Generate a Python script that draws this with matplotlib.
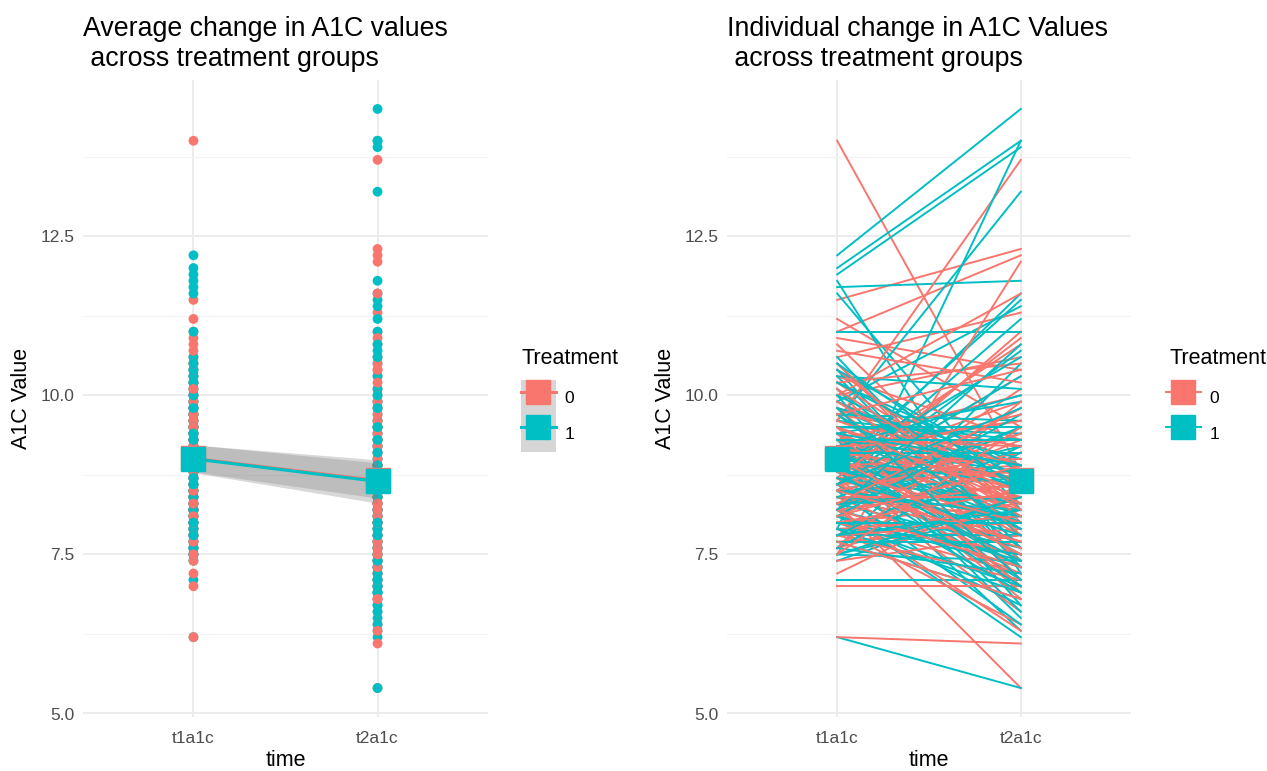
'''Average and individual change in A1C values by treatment group'''

import numpy as np
import matplotlib
matplotlib.use('Agg')
import matplotlib.pyplot as plt
from matplotlib.lines import Line2D
from matplotlib.patches import Patch
from matplotlib.legend_handler import HandlerTuple

plt.rcParams['font.family'] = ['Liberation Sans', 'DejaVu Sans']

# time points (discrete x axis)
times = ['t1a1c', 't2a1c']
groups = ['0', '1']
y_ticks = [5.0, 7.5, 10.0, 12.5]

# treatment 0: one entry per subject, t1 -> t2
t1_g0 = [14.0, 11.5, 11.2, 11.0, 10.9, 10.8, 10.6, 10.5, 8.9, 10.2,
         10.1, 10.0, 9.9, 9.8, 9.7, 9.6, 9.5, 9.5, 8.2, 9.3,
         9.3, 9.2, 9.1, 9.0, 9.0, 8.9, 8.9, 8.8, 8.7, 8.7,
         8.6, 8.5, 8.5, 8.4, 8.3, 8.3, 8.2, 8.1, 8.0, 7.9,
         7.8, 7.7, 7.5, 7.2, 7.0, 6.2, 9.2, 8.6, 10.3, 8.0,
         7.6, 7.4, 8.2, 7.8, 8.4,
         9.6, 8.4, 9.1, 7.9, 10.2, 8.7, 9.4, 8.1, 9.8, 8.6,
         9.0, 7.6, 10.4, 8.9, 9.3, 8.2, 9.7, 8.5, 9.2, 8.8,
         10.0, 7.8, 9.5, 8.3, 9.1, 8.6, 10.7, 8.0, 9.4, 8.9,
         9.9, 7.7, 9.0, 8.4, 10.5, 8.7, 9.6, 8.2, 9.3, 8.8,
         9.2, 7.5, 10.1, 8.5, 9.7, 8.1, 9.8, 8.3, 9.5, 9.0]
t2_g0 = [8.8, 12.3, 9.5, 12.2, 10.4, 8.0, 11.3, 7.6, 9.9, 8.3,
         7.1, 10.6, 8.7, 7.4, 9.2, 13.7, 8.1, 6.9, 10.1, 8.5,
         7.8, 9.6, 8.2, 7.0, 9.0, 10.8, 8.4, 7.3, 8.9, 6.6,
         9.4, 8.0, 11.0, 7.7, 5.4, 8.6, 9.8, 7.5, 8.3, 6.4,
         9.1, 7.9, 12.1, 8.6, 7.0, 6.1, 6.8, 10.3, 9.3, 7.2,
         8.4, 7.8, 6.3, 7.1, 8.2,
         8.9, 7.2, 9.6, 8.1, 10.5, 7.7, 8.4, 9.3, 8.9, 8.8,
         7.5, 9.9, 8.2, 8.7, 10.0, 8.6, 7.9, 9.1, 8.3, 7.4,
         11.6, 8.0, 8.5, 9.4, 8.7, 7.6, 10.2, 8.5, 7.0, 9.0,
         8.1, 6.8, 9.7, 8.4, 7.8, 10.9, 8.6, 7.3, 9.2, 8.0,
         9.3, 9.5, 8.2, 7.7, 10.4, 8.9, 7.1, 9.8, 8.3, 7.5]

# treatment 1
t1_g1 = [12.2, 12.0, 11.9, 11.8, 11.7, 11.6, 8.9, 10.4, 10.3, 10.2,
         10.0, 9.9, 9.8, 9.7, 9.6, 9.5, 9.4, 9.3, 9.2, 9.1,
         9.0, 9.0, 8.9, 8.8, 8.8, 8.7, 8.6, 8.5, 8.4, 8.3,
         8.2, 8.1, 8.0, 7.9, 7.8, 7.7, 7.6, 7.5, 7.4, 7.1,
         6.2, 11.0, 8.5, 9.1, 8.0, 8.6, 9.4, 7.8, 8.2, 9.1,
         7.5, 7.9, 8.3, 7.6, 8.1,
         8.8, 9.7, 8.2, 10.3, 8.5, 9.1, 7.8, 9.9, 8.6, 9.4,
         8.0, 10.6, 8.9, 9.2, 7.6, 9.5, 8.4, 10.1, 8.7, 9.0,
         7.9, 9.8, 8.3, 10.4, 8.6, 9.3, 7.7, 9.6, 8.5, 9.0,
         8.1, 10.0, 8.8, 9.2, 7.5, 9.7, 8.4, 10.2, 8.9, 9.1,
         7.8, 9.5, 8.2, 10.5, 8.7, 9.3, 8.0, 9.8, 8.6, 9.4]
t2_g1 = [14.5, 14.0, 13.9, 7.2, 11.8, 8.2, 11.5, 7.3, 7.4, 8.9,
         6.7, 11.4, 8.5, 7.6, 13.2, 7.0, 8.0, 6.5, 8.1, 8.7,
         7.9, 6.3, 7.1, 8.8, 11.6, 8.3, 6.9, 9.2, 7.7, 8.6,
         6.2, 6.7, 7.5, 14.0, 8.1, 6.8, 10.5, 7.4, 8.4, 7.1,
         5.4, 11.0, 6.4, 7.5, 7.0, 10.7, 6.6, 7.8, 9.5, 8.0,
         8.2, 6.9, 7.6, 9.1, 7.3,
         8.3, 9.6, 7.4, 10.1, 8.7, 7.9, 9.2, 8.5, 6.9, 9.9,
         8.0, 7.6, 10.6, 8.8, 7.2, 9.4, 8.2, 7.8, 11.2, 8.6,
         7.5, 9.0, 8.4, 8.8, 10.3, 8.9, 7.7, 9.3, 8.1, 7.3,
         9.7, 8.6, 7.0, 10.0, 8.4, 7.9, 9.5, 8.7, 7.4, 9.1,
         8.2, 9.5, 10.8, 8.5, 7.8, 9.3, 8.0, 7.1, 9.8, 8.9]

colors = {'0': '#F8766D', '1': '#00BFC4'}
data = {'0': (np.array(t1_g0), np.array(t2_g0)),
        '1': (np.array(t1_g1), np.array(t2_g1))}

x = np.arange(len(times))

# summary per group: mean and 95% interval
summ = {}
for g, (a, b) in data.items():
    means = np.array([a.mean(), b.mean()])
    se = np.array([a.std(ddof=1) / np.sqrt(len(a)), b.std(ddof=1) / np.sqrt(len(b))])
    summ[g] = (means, means - 1.98 * se, means + 1.98 * se)

all_vals = np.concatenate([np.concatenate(v) for v in data.values()])
lo, hi = all_vals.min(), all_vals.max()
pad = 0.05 * (hi - lo)

fig = plt.figure(figsize=(12.67, 7.71), dpi=100)
ax1 = fig.add_axes([83 / 1267, 54 / 771, 405 / 1267, 637 / 771])
ax2 = fig.add_axes([727 / 1267, 54 / 771, 404 / 1267, 637 / 771])


def style_axis(ax):
    ax.set_xlim(-0.6, 1.6)
    ax.set_ylim(lo - pad, hi + pad)
    ax.set_xticks(x)
    ax.set_xticklabels(times)
    ax.set_yticks(y_ticks)
    ax.set_yticklabels([f'{v:.1f}' for v in y_ticks])
    ax.set_yticks([6.25, 8.75, 11.25, 13.75], minor=True)
    ax.grid(True, which='major', color='#EBEBEB', lw=1.3)
    ax.grid(True, which='minor', axis='y', color='#F2F2F2', lw=0.8)
    ax.set_axisbelow(True)
    for s in ax.spines.values():
        s.set_visible(False)
    ax.tick_params(which='both', length=0, labelsize=12.5, colors='#4D4D4D')
    ax.tick_params(axis='x', pad=10)
    ax.tick_params(axis='y', pad=6)
    ax.set_xlabel('time', fontsize=15.5, labelpad=3)
    ax.set_ylabel('A1C Value', fontsize=15.5, labelpad=6)


# interleave subjects from both groups so the drawing order is mixed
n = len(t1_g0)
order = [(g, i) for i in range(n) for g in groups]

# left panel: points, ribbon, mean line, mean squares
for k in range(len(times)):
    vals = [data[g][k][i] for g, i in order]
    cols = [colors[g] for g, i in order]
    ax1.scatter(np.full(len(vals), x[k]), vals, s=50, c=cols, lw=0, zorder=2)
for g in groups:
    m, lower, upper = summ[g]
    ax1.fill_between(x, lower, upper, color='#808080', alpha=0.3, lw=0, zorder=3)
for g in groups:
    m, lower, upper = summ[g]
    ax1.plot(x, m, color=colors[g], lw=2.2, zorder=4)
    ax1.plot(x, m, 's', color=colors[g], ms=17, zorder=5)
style_axis(ax1)

# right panel: one line per subject
for g, i in order:
    ax2.plot(x, [data[g][0][i], data[g][1][i]], color=colors[g], lw=1.4, zorder=2)
for g in groups:
    ax2.plot(x, summ[g][0], 's', ls='none', color=colors[g], ms=17, zorder=5)
style_axis(ax2)

fig.text(83 / 1267, 1 - 16 / 771, 'Average change in A1C values\n across treatment groups',
         fontsize=19.3, va='top', ha='left')
fig.text(727 / 1267, 1 - 16 / 771, 'Individual change in A1C Values\n across treatment groups',
         fontsize=19.3, va='top', ha='left')

# legends (title as separate text so the gap above the keys matches)
bg = Patch(facecolor='#D6D6D6', edgecolor='none')
left_handles = [(bg, Line2D([], [], color=colors[g], lw=2.2, marker='s', ms=17))
                for g in groups]
right_handles = [Line2D([], [], color=colors[g], lw=1.4, marker='s', ms=17) for g in groups]
common = dict(loc='upper left', frameon=False, fontsize=12.5,
              handlelength=2.0, handleheight=2.8, labelspacing=0.0,
              handletextpad=0.5, borderpad=0, borderaxespad=0)
fig.legend(left_handles, groups, bbox_to_anchor=(521 / 1267, 1 - 380 / 771),
           handler_map={tuple: HandlerTuple(ndivide=1, pad=0)}, **common)
fig.legend(right_handles, groups, bbox_to_anchor=(1166 / 1267, 1 - 380 / 771), **common)
fig.text(522 / 1267, 1 - 358 / 771, 'Treatment', fontsize=15.5, va='center', ha='left')
fig.text(1169 / 1267, 1 - 358 / 771, 'Treatment', fontsize=15.5, va='center', ha='left')

fig.savefig('out.png', dpi=100)
